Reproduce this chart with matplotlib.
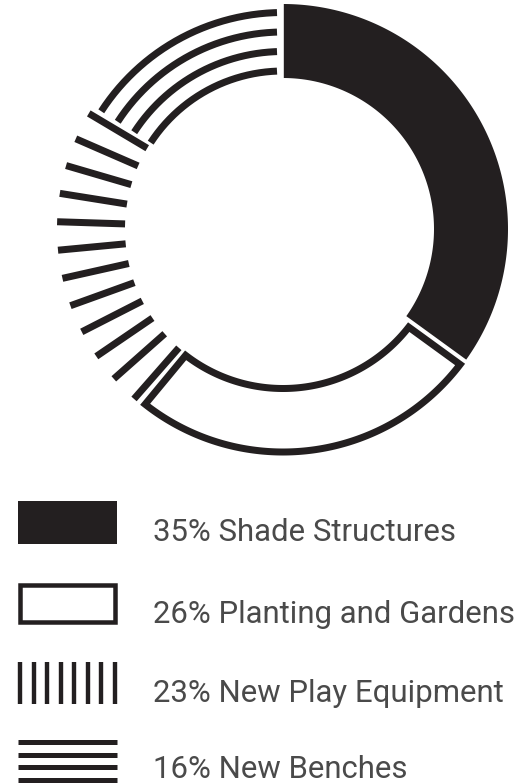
import numpy as np
import matplotlib
matplotlib.use("Agg")
import matplotlib.pyplot as plt
from matplotlib.patches import Polygon, Rectangle

# ---------------- data ----------------
categories = ["Shade Structures", "Planting and Gardens", "New Play Equipment", "New Benches"]
values = [35, 26, 23, 16]
legend_labels = [f"{v}% {c}" for v, c in zip(values, categories)]

# ---------------- layout ----------------
W, H, DPI = 532, 784, 100
fig = plt.figure(figsize=(W / DPI, H / DPI), dpi=DPI)
ax = fig.add_axes([0, 0, 1, 1])
ax.set_xlim(0, W)
ax.set_ylim(H, 0)
ax.axis("off")

INK = "#231f20"
TXT = "#4a4a4a"


def px2pt(p):
    return p * 72.0 / DPI


CX, CY = 283, 229
R_OUT, R_IN = 225, 151
GAP = 4.0

total = float(sum(values))
bounds = np.cumsum([0] + values) / total * 360.0  # degrees clockwise from 12 o'clock


def pt(r, th):
    t = np.radians(th)
    return CX + r * np.sin(t), CY - r * np.cos(t)


def ang_off(d, r):
    return np.degrees(np.arcsin(d / r))


def sector_poly(a1, a2, r_out, r_in, d1, d2, n=240):
    th_o = np.linspace(a1 + ang_off(d1, r_out), a2 - ang_off(d2, r_out), n)
    th_i = np.linspace(a2 - ang_off(d2, r_in), a1 + ang_off(d1, r_in), n)
    xo, yo = pt(r_out, th_o)
    xi, yi = pt(r_in, th_i)
    return np.column_stack([np.r_[xo, xi], np.r_[yo, yi]])


# 1) solid segment
a1, a2 = bounds[0], bounds[1]
ax.add_patch(Polygon(sector_poly(a1, a2, R_OUT, R_IN, 0.8, GAP / 2), closed=True,
                     facecolor=INK, edgecolor="none"))

# 2) outlined segment
a1, a2 = bounds[1], bounds[2]
SW = 7.0
ax.add_patch(Polygon(sector_poly(a1, a2, R_OUT + 1.5 - SW / 2, R_IN + 5 + SW / 2,
                                 GAP / 2 + SW / 2, GAP / 2 + SW / 2),
                     closed=True, facecolor="white", edgecolor=INK,
                     linewidth=px2pt(SW), joinstyle="miter"))

# 3) radial-bar segment
a1, a2 = bounds[2], bounds[3]
n_bars = 12
BW = 7.0
r0, r1 = 158, 226
rm = 0.5 * (r0 + r1)
d = ang_off(GAP / 2 + BW / 2, rm)
for th in np.linspace(a1 + d, a2 - d, n_bars):
    x, y = pt(np.array([r0, r1]), np.array([th, th]))
    ax.plot(x, y, color=INK, lw=px2pt(BW), solid_capstyle="butt")

# 4) concentric-arc segment
a1, a2 = bounds[3], bounds[4]
for r in [216.5, 197.0, 177.5, 158.0]:
    th = np.linspace(a1 + ang_off(GAP / 2, r), a2 - ang_off(6.0, r), 200)
    x, y = pt(r, th)
    ax.plot(x, y, color=INK, lw=px2pt(7.0), solid_capstyle="butt")

# ---------------- legend ----------------
LX0, LX1 = 18, 117
# solid
ax.add_patch(Rectangle((LX0, 501), LX1 - LX0, 43, facecolor=INK, edgecolor="none"))
# outline
lw = 4.5
ax.add_patch(Rectangle((LX0 + lw / 2, 583 + lw / 2), LX1 - LX0 - lw, 41 - lw,
                       facecolor="white", edgecolor=INK, linewidth=px2pt(lw),
                       joinstyle="miter"))
# vertical bars
for xb in np.linspace(LX0 + 2.2, LX1 - 2.2, 8):
    ax.plot([xb, xb], [662, 704], color=INK, lw=px2pt(4.4), solid_capstyle="butt")
# horizontal lines
for yb in [742, 755, 767, 780]:
    ax.plot([LX0, LX1], [yb, yb], color=INK, lw=px2pt(5.0), solid_capstyle="butt")

baselines = [541, 622.7, 702, 778]
for lab, yb in zip(legend_labels, baselines):
    ax.text(153, yb, lab, fontsize=px2pt(31.2), color=TXT, family=["Roboto", "DejaVu Sans"],
            va="baseline", ha="left")

fig.savefig("out.png", dpi=DPI, facecolor="white")
